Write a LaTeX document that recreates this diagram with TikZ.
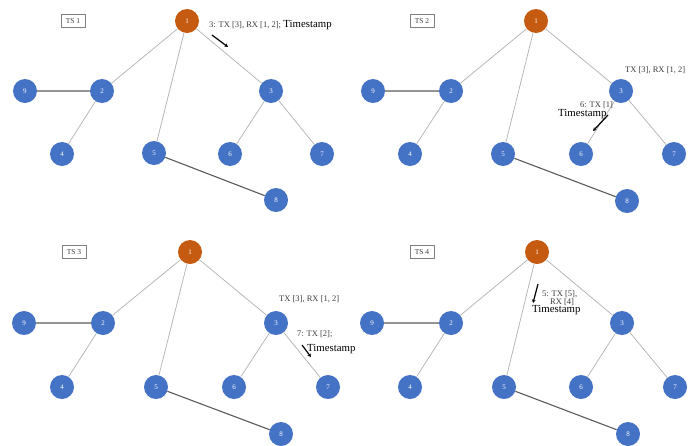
\documentclass[tikz,border=0pt]{standalone}
\usepackage{fontspec}
\setmainfont{Liberation Serif}
\usetikzlibrary{arrows.meta}
\definecolor{nodeblue}{HTML}{4472C4}
\definecolor{rootorange}{HTML}{C55A11}
\definecolor{litegray}{HTML}{B4B4B4}
\definecolor{darkgray}{HTML}{5A5A5A}
\definecolor{txtgray}{HTML}{3C3C3C}
\definecolor{boxgray}{HTML}{808080}
\tikzset{
  vtx/.style={circle, minimum size=24pt, inner sep=0pt, text=white,
    font=\fontsize{7}{8}\selectfont},
  leafnode/.style={vtx, fill=nodeblue},
  rootnode/.style={vtx, fill=rootorange},
  litelink/.style={draw=litegray, line width=0.75pt},
  darklink/.style={draw=darkgray, line width=1.1pt},
  tsbox/.style={draw=boxgray, line width=0.6pt, minimum width=24pt,
    minimum height=13pt, inner sep=0pt, text=txtgray,
    font=\fontsize{7.5}{8}\selectfont},
  smalltxt/.style={inner sep=0pt, text=txtgray, font=\fontsize{8.5}{9}\selectfont},
  stamptxt/.style={inner sep=0pt, font=\fontsize{10.8}{11}\selectfont},
  timearrow/.style={line width=1.2pt, -{Stealth[length=3.5pt,width=3.5pt]}},
}
\newcommand{\treelinks}{%
  \draw[litelink] (n1) -- (n2) (n1) -- (n5) (n1) -- (n3)
                  (n2) -- (n4) (n3) -- (n6) (n3) -- (n7);
  \draw[darklink] (n9) -- (n2) (n5) -- (n8);}
\begin{document}
\begin{tikzpicture}[x=1pt, y=-1pt]
\useasboundingbox (0,0) rectangle (696,445);

% time step 1
\begin{scope}[name prefix=a-]
  \node[tsbox] (ts) at (73,21) {TS 1};
  \node[rootnode] (n1) at (187,21) {1};
  \node[leafnode] (n2) at (102,91) {2};
  \node[leafnode] (n3) at (271,91) {3};
  \node[leafnode] (n4) at (62,154) {4};
  \node[leafnode] (n5) at (154,153) {5};
  \node[leafnode] (n6) at (230,154) {6};
  \node[leafnode] (n7) at (322,154) {7};
  \node[leafnode] (n8) at (276,200) {8};
  \node[leafnode] (n9) at (25,91) {9};
  \treelinks
  \node[anchor=base west, inner sep=0pt] (lab) at (209,27.5)
    {\textcolor{txtgray}{\fontsize{8.5}{9}\selectfont 3: TX [3], RX [1, 2];}
     {\fontsize{10.8}{11}\selectfont Timestamp}};
  \coordinate (s) at (212,35);
  \coordinate (e) at (228,47);
  \draw[timearrow] (s) -- (e);
\end{scope}

% time step 2
\begin{scope}[name prefix=b-]
  \node[tsbox] (ts) at (422,21) {TS 2};
  \node[rootnode] (n1) at (536,21) {1};
  \node[leafnode] (n2) at (451,91) {2};
  \node[leafnode] (n3) at (621,91) {3};
  \node[leafnode] (n4) at (410,154) {4};
  \node[leafnode] (n5) at (503,154) {5};
  \node[leafnode] (n6) at (581,154) {6};
  \node[leafnode] (n7) at (674,154) {7};
  \node[leafnode] (n8) at (627,201) {8};
  \node[leafnode] (n9) at (373,91) {9};
  \treelinks
  \node[smalltxt, anchor=base west] (lab) at (625,72) {TX [3], RX [1, 2]};
  \node[smalltxt, anchor=base west] (tx) at (580,107.5) {6: TX [1]};
  \node[stamptxt, anchor=base west] (st) at (558,116) {Timestamp};
  \coordinate (s) at (608,115);
  \coordinate (e) at (593,131);
  \draw[timearrow] (s) -- (e);
\end{scope}

% time step 3
\begin{scope}[name prefix=c-]
  \node[tsbox] (ts) at (74,252) {TS 3};
  \node[rootnode] (n1) at (190,252) {1};
  \node[leafnode] (n2) at (103,323) {2};
  \node[leafnode] (n3) at (276,323) {3};
  \node[leafnode] (n4) at (62,387) {4};
  \node[leafnode] (n5) at (156,387) {5};
  \node[leafnode] (n6) at (234,387) {6};
  \node[leafnode] (n7) at (328,387) {7};
  \node[leafnode] (n8) at (281,434) {8};
  \node[leafnode] (n9) at (24,323) {9};
  \treelinks
  \node[smalltxt, anchor=base west] (lab) at (279,301.5) {TX [3], RX [1, 2]};
  \node[smalltxt, anchor=base west] (tx) at (297,336.5) {7: TX [2];};
  \node[stamptxt, anchor=base west] (st) at (307,351.5) {Timestamp};
  \coordinate (s) at (302,345);
  \coordinate (e) at (311,357);
  \draw[timearrow] (s) -- (e);
\end{scope}

% time step 4
\begin{scope}[name prefix=d-]
  \node[tsbox] (ts) at (422,252) {TS 4};
  \node[rootnode] (n1) at (537,252) {1};
  \node[leafnode] (n2) at (451,323) {2};
  \node[leafnode] (n3) at (622,323) {3};
  \node[leafnode] (n4) at (410,387) {4};
  \node[leafnode] (n5) at (504,387) {5};
  \node[leafnode] (n6) at (581,387) {6};
  \node[leafnode] (n7) at (675,387) {7};
  \node[leafnode] (n8) at (628,434) {8};
  \node[leafnode] (n9) at (372,323) {9};
  \treelinks
  \node[smalltxt, anchor=base west] (tx) at (542,296) {5: TX [5],};
  \node[smalltxt, anchor=base west] (rx) at (550,304.5) {RX [4]};
  \node[stamptxt, anchor=base west] (st) at (532,312) {Timestamp};
  \coordinate (s) at (538,284);
  \coordinate (e) at (533,303);
  \draw[timearrow] (s) -- (e);
\end{scope}
\end{tikzpicture}
\end{document}
